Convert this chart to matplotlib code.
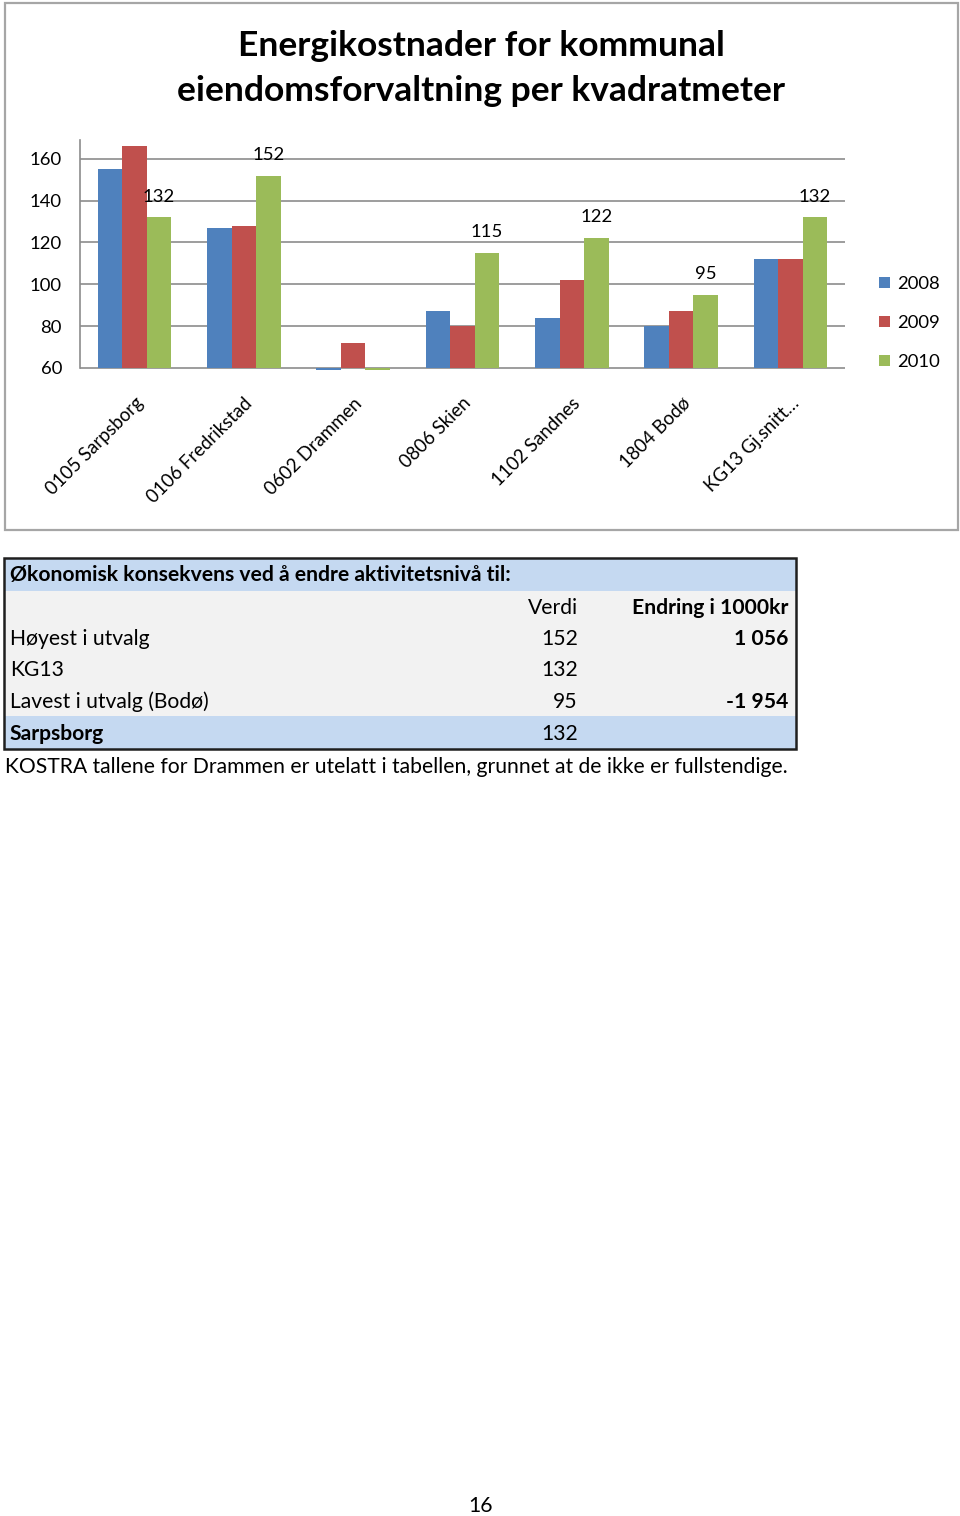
import matplotlib.pyplot as plt
from matplotlib.patches import Rectangle
import numpy as np

plt.rcParams['font.family'] = ['Lato', 'DejaVu Sans']

categories = ['0105 Sarpsborg', '0106 Fredrikstad', '0602 Drammen', '0806 Skien',
              '1102 Sandnes', '1804 Bodø', 'KG13 Gj.snitt…']
years = ['2008', '2009', '2010']
v2008 = [155, 127, 59, 87, 84, 80, 112]
v2009 = [166, 128, 72, 80, 102, 87, 112]
v2010 = [132, 152, 59, 115, 122, 95, 132]
labels2010 = ['132', '152', None, '115', '122', '95', '132']
colors = ['#4F81BD', '#C0504D', '#9BBB59']

table_title = 'Økonomisk konsekvens ved å endre aktivitetsnivå til:'
table_rows = ['Høyest i utvalg', 'KG13', 'Lavest i utvalg (Bodø)', 'Sarpsborg']
table_verdi = ['152', '132', '95', '132']
table_endring = ['1 056', '', '-1 954', '']
footnote = 'KOSTRA tallene for Drammen er utelatt i tabellen, grunnet at de ikke er fullstendige.'
page_no = '16'

W, H = 960, 1516
fig = plt.figure(figsize=(W / 100, H / 100), dpi=100)

# background layer in pixel coordinates
bg = fig.add_axes([0, 0, 1, 1])
bg.set_xlim(0, W)
bg.set_ylim(H, 0)
bg.axis('off')

# chart frame
bg.add_patch(Rectangle((5, 3), 953, 527, fill=False, ec='#A6A6A6', lw=1.6))
bg.text(481, 46, 'Energikostnader for kommunal', ha='center', va='center',
        fontsize=25.5, fontweight='bold')
bg.text(481, 91, 'eiendomsforvaltning per kvadratmeter', ha='center', va='center',
        fontsize=25.5, fontweight='bold')

# chart
base = 60
y0, y1 = 58.5, 169
ax = fig.add_axes([80 / W, 1 - 371 / H, 765 / W, 231 / H])
ax.set_xlim(0, 7)
ax.set_ylim(y0, y1)
ax.patch.set_alpha(0)
x = np.arange(len(categories)) + 0.5
bw = 0.224
series = [v2008, v2009, v2010]
bars = []
for k, (vals, c) in enumerate(zip(series, colors)):
    b = ax.bar(x + (k - 1) * bw, np.array(vals) - base, bw, bottom=base,
               color=c, label=years[k], zorder=3)
    bars.append(b)
for xi, v, lab in zip(x, v2010, labels2010):
    if lab:
        ax.annotate(lab, (xi + bw, v), xytext=(0, 15), textcoords='offset points',
                    ha='center', va='center', fontsize=13.3)
for g in [60, 80, 100, 120, 140, 160]:
    ax.axhline(g, color='#8C8C8C', lw=1.2, zorder=1)
for s in ['top', 'right', 'bottom']:
    ax.spines[s].set_visible(False)
ax.spines['left'].set_bounds(base, y1)
ax.spines['left'].set_color('#8C8C8C')
ax.spines['left'].set_linewidth(1.2)
ax.set_yticks([60, 80, 100, 120, 140, 160])
ax.tick_params(axis='y', length=0, labelsize=13.3, pad=13)
ax.set_xticks(x)
ax.set_xticklabels(categories, rotation=45, ha='right', rotation_mode='anchor',
                   fontsize=13.4)
ax.tick_params(axis='x', length=0, pad=17)

fig.legend(handles=bars, loc='center left', bbox_to_anchor=(862 / W, 1 - 323 / H),
           frameon=False, fontsize=13.3, handlelength=0.6, handleheight=0.6,
           handletextpad=0.4, labelspacing=1.25)

# table
row_h = [33, 31, 32, 31, 31, 33]
ytop = 558
fills = ['#C5D9F1', '#F2F2F2', '#F2F2F2', '#F2F2F2', '#F2F2F2', '#C5D9F1']
yy = ytop
centers = []
for h, f in zip(row_h, fills):
    bg.add_patch(Rectangle((4, yy), 792, h, fc=f, ec='none'))
    centers.append(yy + h / 2)
    yy += h
bg.add_patch(Rectangle((4, ytop), 792, yy - ytop, fill=False, ec='#1F1F1F', lw=1.8))

fs = 15.2
bg.text(10, centers[0] + 1, table_title, ha='left', va='center', fontsize=fs,
        fontweight='bold')
bg.text(578, centers[1] + 1, 'Verdi', ha='right', va='center', fontsize=fs)
bg.text(788, centers[1] + 1, 'Endring i 1000kr', ha='right', va='center', fontsize=fs,
        fontweight='bold')
for i, (name, v, e) in enumerate(zip(table_rows, table_verdi, table_endring)):
    cy = centers[i + 2] + 1
    bg.text(10, cy, name, ha='left', va='center', fontsize=fs,
            fontweight='bold' if name == 'Sarpsborg' else 'normal')
    bg.text(578, cy, v, ha='right', va='center', fontsize=fs)
    if e:
        bg.text(788, cy, e, ha='right', va='center', fontsize=fs, fontweight='bold')

bg.text(5, 767, footnote, ha='left', va='center', fontsize=fs)
bg.text(481, 1506, page_no, ha='center', va='center', fontsize=fs)

fig.savefig('out.png', dpi=100)
